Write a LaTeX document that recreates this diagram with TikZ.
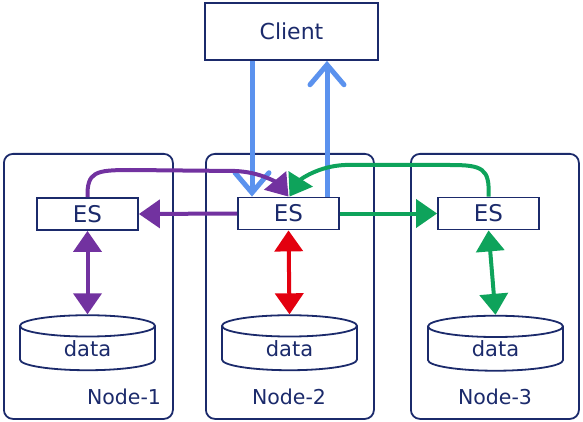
\documentclass[tikz,border=0pt]{standalone}
\usepackage{fontspec}
\setmainfont{DejaVu Sans}
\usetikzlibrary{arrows.meta,shapes.geometric}
\definecolor{navy}{HTML}{1B2A6B}
\definecolor{purp}{HTML}{7232A0}
\definecolor{grn}{HTML}{0EA35B}
\definecolor{redc}{HTML}{E3000F}
\definecolor{blu}{HTML}{5B92EE}
\begin{document}
\begin{tikzpicture}[x=1pt,y=-1pt,
  container/.style={draw=navy, line width=1.8pt, rounded corners=9pt, anchor=north west, inner sep=0pt},
  esbox/.style={draw=navy, fill=white, line width=1.8pt, minimum width=101pt, minimum height=32pt, inner sep=0pt, text=navy, font=\fontsize{23}{25}\selectfont},
  db/.style={cylinder, shape border rotate=90, draw=navy, line width=1.8pt, minimum width=135pt, minimum height=55pt, aspect=0.45, inner sep=0pt, text=navy, font=\fontsize{21}{23}\selectfont},
  lbl/.style={text=navy, font=\fontsize{20.5}{22}\selectfont},
  arr/.style={line width=4pt, -{Triangle[length=21pt,width=28pt]}},
  darr/.style={line width=4pt, {Triangle[length=21pt,width=28pt]}-{Triangle[length=21pt,width=28pt]}},
  barr/.style={draw=blu, line width=5pt, -{Straight Barb[length=20pt,width=34pt,line cap=round]}}
]
\useasboundingbox (0,0) rectangle (583,422);
% containers
\node[container, minimum width=169pt, minimum height=265pt] (n1) at (3,153) {};
\node[container, minimum width=168pt, minimum height=265pt] (n2) at (205,153) {};
\node[container, minimum width=168pt, minimum height=265pt] (n3) at (410,153) {};
% client
\node[draw=navy, line width=1.8pt, minimum width=173pt, minimum height=57pt, inner sep=0pt, text=navy, font=\fontsize{22}{24}\selectfont] (client) at (291.5,31.5) {Client};
% ES
\node[esbox] (es1) at (87.5,214) {ES};
\node[esbox] (es2) at (288.5,213.5) {ES};
\node[esbox] (es3) at (488.5,213.5) {ES};
% data
\node[db] (d1) at (87.5,348.5) {data};
\node[db] (d2) at (289.5,348.5) {data};
\node[db] (d3) at (495.5,349) {data};
% labels
\node[lbl] (l1) at (124,397) {Node-1};
\node[lbl] (l2) at (289,397) {Node-2};
\node[lbl] (l3) at (495,397) {Node-3};
% blue
\draw[barr] ([xshift=-39.5pt]client.south) -- ([xshift=-36.5pt]es2.north);
\draw[barr] ([xshift=38.5pt]es2.north) -- ([xshift=35.5pt]client.south);
% purple
\draw[purp, arr] (es1.north) .. controls (87,172) and (95,170) .. (130,170) -- (235,171) .. controls (262,172) and (278,184) .. (es2.north);
\draw[purp, arr] (es2.west) -- (es1.east);
\draw[purp, darr] (es1.south) -- (d1.north);
% green
\draw[grn, arr] (es3.north) .. controls (490,168) and (482,165) .. (450,165) -- (345,165) .. controls (318,166) and (300,180) .. ([xshift=1pt]es2.north);
\draw[grn, arr] (es2.east) -- (es3.west);
\draw[grn, darr] (es3.south) -- (d3.north);
% red
\draw[redc, darr] (es2.south) -- (d2.north);
\end{tikzpicture}
\end{document}
